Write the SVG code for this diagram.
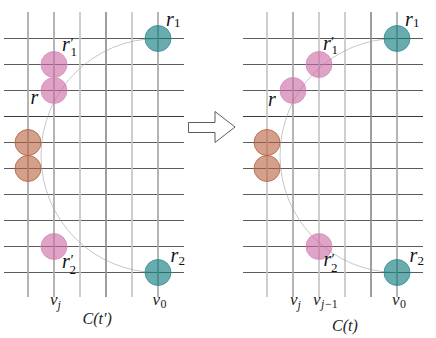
<svg xmlns="http://www.w3.org/2000/svg" width="436" height="338" viewBox="0 0 436 338">
<style>
.vl{stroke:#c6c6c6;stroke-width:1.7}
.vm{stroke:#a8a8a8;stroke-width:1.7}
.vd{stroke:#8e8e8e;stroke-width:1.7}
.h{stroke:#5c5c5c;stroke-width:1}
.hd{stroke:#3a3a3a;stroke-width:1.1}
.arc{fill:none;stroke:#a0a0a0;stroke-width:0.6}
.teal{fill:#037578;fill-opacity:0.6;stroke:#2e8d90;stroke-width:0.8}
.pink{fill:#cb66a3;fill-opacity:0.6;stroke:#d88ab8;stroke-width:0.8}
.brown{fill:#b7613f;fill-opacity:0.6;stroke:#b0603c;stroke-width:0.8}
text{font-family:"Liberation Serif","DejaVu Serif",serif;fill:#111}
.m{font-style:italic;font-size:20px}
.s{font-style:normal;font-size:13px}
.p{font-style:normal;font-size:15px}
.v{font-style:italic;font-size:17px;fill:#222}
.vs{font-style:normal;font-size:12px}
.vsi{font-style:italic;font-size:12px}
.c{font-style:italic;font-size:16px;fill:#222}
</style>
<g id="grid-left">
<line class="h" x1="4" y1="38.5" x2="184" y2="38.5"/>
<line class="h" x1="4" y1="64.5" x2="184" y2="64.5"/>
<line class="h" x1="4" y1="90.5" x2="184" y2="90.5"/>
<line class="hd" x1="4" y1="116.5" x2="184" y2="116.5"/>
<line class="h" x1="4" y1="142.5" x2="184" y2="142.5"/>
<line class="h" x1="4" y1="168.5" x2="184" y2="168.5"/>
<line class="h" x1="4" y1="194.5" x2="184" y2="194.5"/>
<line class="h" x1="4" y1="220.5" x2="184" y2="220.5"/>
<line class="h" x1="4" y1="246.5" x2="184" y2="246.5"/>
<line class="h" x1="4" y1="272.5" x2="184" y2="272.5"/>
<line class="vm" x1="28" y1="12" x2="28" y2="297"/>
<line class="vm" x1="54" y1="12" x2="54" y2="297"/>
<line class="vl" x1="80" y1="12" x2="80" y2="297"/>
<line class="vd" x1="106" y1="12" x2="106" y2="297"/>
<line class="vl" x1="132" y1="12" x2="132" y2="297"/>
<line class="vm" x1="158" y1="12" x2="158" y2="297"/>
</g>
<g id="grid-right">
<line class="h" x1="243" y1="38.5" x2="423" y2="38.5"/>
<line class="h" x1="243" y1="64.5" x2="423" y2="64.5"/>
<line class="h" x1="243" y1="90.5" x2="423" y2="90.5"/>
<line class="hd" x1="243" y1="116.5" x2="423" y2="116.5"/>
<line class="h" x1="243" y1="142.5" x2="423" y2="142.5"/>
<line class="h" x1="243" y1="168.5" x2="423" y2="168.5"/>
<line class="h" x1="243" y1="194.5" x2="423" y2="194.5"/>
<line class="h" x1="243" y1="220.5" x2="423" y2="220.5"/>
<line class="h" x1="243" y1="246.5" x2="423" y2="246.5"/>
<line class="h" x1="243" y1="272.5" x2="423" y2="272.5"/>
<line class="vl" x1="267" y1="12" x2="267" y2="297"/>
<line class="vm" x1="293" y1="12" x2="293" y2="297"/>
<line class="vl" x1="319" y1="12" x2="319" y2="297"/>
<line class="vl" x1="345" y1="12" x2="345" y2="297"/>
<line class="vd" x1="371" y1="12" x2="371" y2="297"/>
<line class="vm" x1="397" y1="12" x2="397" y2="297"/>
</g>
<g id="connectors">
<path class="arc" d="M158,38.5 A117,117 0 0 0 158,272.5"/>
<path class="arc" d="M397,38.5 A117,117 0 0 0 397,272.5"/>
<polygon points="188.5,122.5 215,122.5 215,111.5 235,127 215,142.5 215,132.5 188.5,132.5" fill="#fff" stroke="#333" stroke-width="0.8"/>
</g>
<g id="L-r1"><circle class="teal" cx="158" cy="38.5" r="13"/><text class="m" x="166" y="25.5">r<tspan class="s" x="174" y="26.5">1</tspan></text></g>
<g id="L-r2"><circle class="teal" cx="158" cy="272.5" r="13"/><text class="m" x="170.5" y="262">r<tspan class="s" x="178.5" y="265">2</tspan></text></g>
<g id="L-r1p"><circle class="pink" cx="54" cy="64.5" r="13"/><text class="m" x="62" y="50.5">r<tspan class="p" x="70.5" y="48">′</tspan><tspan class="s" x="70.5" y="55.5">1</tspan></text></g>
<g id="L-r"><circle class="pink" cx="54" cy="90.5" r="13"/><text class="m" x="30.5" y="103.5">r</text></g>
<g id="L-r2p"><circle class="pink" cx="54" cy="246.5" r="13"/><text class="m" x="62" y="267.5">r<tspan class="p" x="70.5" y="265">′</tspan><tspan class="s" x="69.5" y="273.5">2</tspan></text></g>
<g id="L-b1"><circle class="brown" cx="28" cy="142.5" r="13"/></g>
<g id="L-b2"><circle class="brown" cx="28" cy="168.5" r="13"/></g>
<g id="L-labels">
<text class="v" x="50" y="305">v<tspan class="vsi" x="57.5" y="309">j</tspan></text>
<text class="v" x="152.5" y="305">v<tspan class="vs" x="160.5" y="308">0</tspan></text>
<text class="c" x="82.5" y="324">C(t′)</text>
</g>
<g id="R-r1"><circle class="teal" cx="397" cy="38.5" r="13"/><text class="m" x="405" y="25.5">r<tspan class="s" x="413" y="26.5">1</tspan></text></g>
<g id="R-r2"><circle class="teal" cx="397" cy="272.5" r="13"/><text class="m" x="409.5" y="262">r<tspan class="s" x="417.5" y="265">2</tspan></text></g>
<g id="R-r1p"><circle class="pink" cx="319" cy="64.5" r="13"/><text class="m" x="323" y="49.5">r<tspan class="p" x="331" y="46.5">′</tspan><tspan class="s" x="331.5" y="53.5">1</tspan></text></g>
<g id="R-r"><circle class="pink" cx="293" cy="90.5" r="13"/><text class="m" x="268" y="105.5">r</text></g>
<g id="R-r2p"><circle class="pink" cx="319" cy="246.5" r="13"/><text class="m" x="323.5" y="266">r<tspan class="p" x="331.5" y="263.5">′</tspan><tspan class="s" x="331" y="271.5">2</tspan></text></g>
<g id="R-b1"><circle class="brown" cx="267" cy="142.5" r="13"/></g>
<g id="R-b2"><circle class="brown" cx="267" cy="168.5" r="13"/></g>
<g id="R-labels">
<text class="v" x="290" y="305">v<tspan class="vsi" x="297.5" y="309">j</tspan></text>
<text class="v" x="313" y="305">v<tspan class="vsi" x="321" y="308">j</tspan><tspan class="vs" x="325" y="308">−1</tspan></text>
<text class="v" x="392" y="305">v<tspan class="vs" x="400" y="308">0</tspan></text>
<text class="c" x="332" y="331">C(t)</text>
</g>
</svg>
